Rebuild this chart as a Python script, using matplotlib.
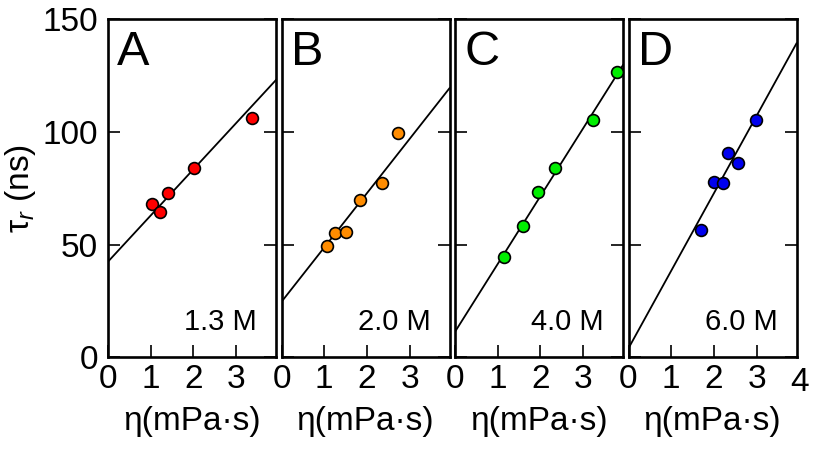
import numpy as np
import matplotlib
matplotlib.use("Agg")
import matplotlib.pyplot as plt

plt.rcParams["font.family"] = ["Liberation Sans", "DejaVu Sans"]
plt.rcParams["mathtext.fontset"] = "custom"
plt.rcParams["mathtext.rm"] = "Liberation Sans"
plt.rcParams["mathtext.it"] = "Liberation Sans:italic"

# data
panel_letters = ["A", "B", "C", "D"]
concentrations = ["1.3 M", "2.0 M", "4.0 M", "6.0 M"]
colors = ["#ff0000", "#ff8c00", "#00ee00", "#0000ee"]

eta_A = [1.02, 1.21, 1.41, 2.02, 3.36]
tau_A = [67.9, 64.5, 73.0, 83.8, 105.9]
eta_B = [1.07, 1.26, 1.50, 1.83, 2.35, 2.72]
tau_B = [49.5, 55.0, 55.7, 69.7, 77.1, 99.6]
eta_C = [1.14, 1.58, 1.95, 2.33, 3.23, 3.78]
tau_C = [44.6, 58.3, 73.1, 83.8, 105.2, 126.3]
eta_D = [1.69, 1.99, 2.22, 2.32, 2.57, 2.98]
tau_D = [56.4, 77.8, 77.4, 90.4, 86.0, 105.2]

# linear fits (intercept, slope)
fit_intercepts = [42.4, 24.6, 11.3, 4.0]
fit_slopes = [20.5, 24.1, 30.1, 34.4]

etas = [eta_A, eta_B, eta_C, eta_D]
taus = [tau_A, tau_B, tau_C, tau_D]

xmax = 3.93
fig = plt.figure(figsize=(8.14, 4.5), dpi=100)

lefts = [108, 281.5, 455, 628.5]
width = 168
bottom = (450 - 357.3) / 450
height = (357.3 - 19) / 450

for i in range(4):
    ax = fig.add_axes([lefts[i] / 814, bottom, width / 814, height])
    xs = np.array([0, xmax])
    ax.plot(xs, fit_intercepts[i] + fit_slopes[i] * xs, color="black", lw=1.3,
            zorder=2)
    ax.plot(etas[i], taus[i], "o", ms=8.5, mfc=colors[i], mec="black", mew=1.2,
            zorder=3, clip_on=False)
    ax.set_xlim(0, xmax)
    ax.set_ylim(0, 150)
    for s in ax.spines.values():
        s.set_linewidth(1.9)

    ax.set_xticks([0, 1, 2, 3])
    ax.tick_params(axis="x", direction="in", length=8.5,
                   width=1.2, labelsize=24, pad=5, top=False)
    ax.set_yticks([0, 50, 100, 150])
    ax.tick_params(axis="y", direction="in", length=8.5, width=1.2,
                   labelsize=24, pad=7, left=True, right=True)
    if i > 0:
        ax.tick_params(axis="y", labelleft=False)
    if i == 3:
        ax.text(4.0, -0.03, "4", transform=ax.get_xaxis_transform(),
                ha="center", va="top", fontsize=24, clip_on=False)

    ax.text(0.055, 0.864, panel_letters[i], transform=ax.transAxes,
            fontsize=35, ha="left", va="baseline")
    ax.text(0.887, 0.081, concentrations[i], transform=ax.transAxes,
            fontsize=21, ha="right", va="baseline")
    ax.set_xlabel("η(mPa·s)", fontsize=24, labelpad=8)
    if i == 0:
        ax.set_ylabel("τ$_r$ (ns)", fontsize=24)
        ax.yaxis.set_label_coords(-70 / width, 0.5)

fig.savefig("out.png", dpi=100)
